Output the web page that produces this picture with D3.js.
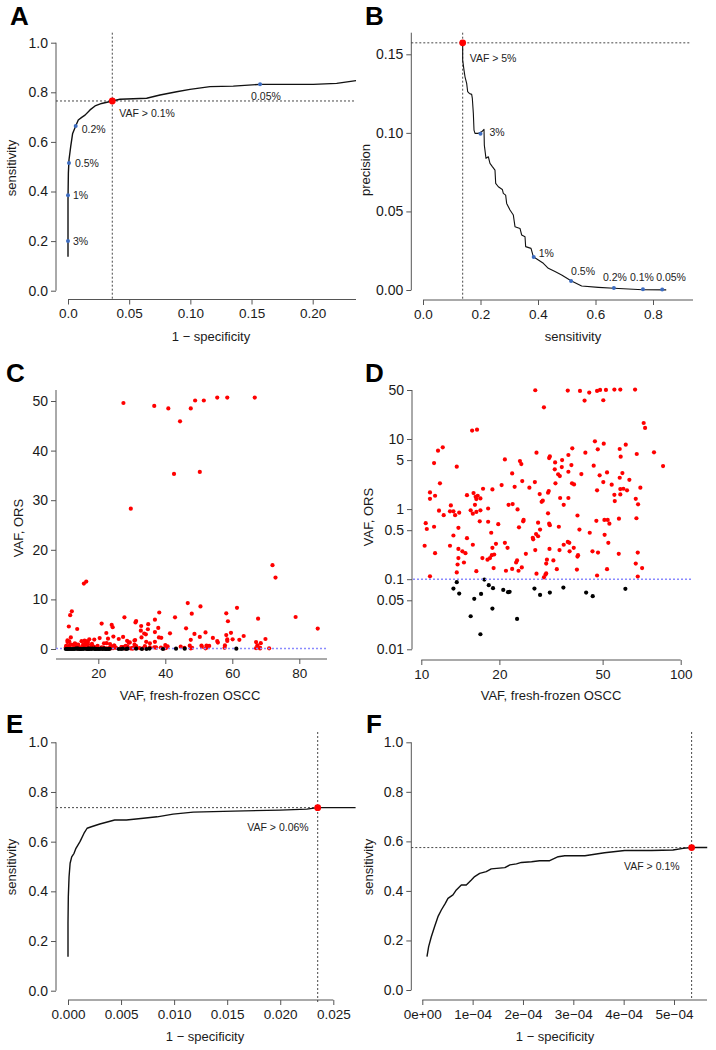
<!DOCTYPE html>
<html>
<head>
<meta charset="utf-8">
<script src="https://cdn.jsdelivr.net/npm/d3@7"></script>
<style>
body { margin: 0; background: #fff; }
svg { display: block; font-family: "Liberation Sans", Arial, sans-serif; }
</style>
</head>
<body>
<div id="fig"></div>
<script>
// ---- thresholds (A / B) ----
var thrLabels = ["3%", "1%", "0.5%", "0.2%", "0.1%", "0.05%"];
var thrSens   = [0.200, 0.385, 0.515, 0.664, 0.765, 0.832];
var thrFpr    = [0.0, 0.0, 0.0008, 0.0063, 0.0362, 0.157];
var thrPrec   = [0.0994, 0.021, 0.0057, 0.0013, 0.0004, 0.0003];
var top5Sens = 0.138, top5Prec = 0.1573;

// ---- ROC, panel A ----
var rocA_fpr  = [0, 0, 0.0003, 0.0008, 0.0022, 0.0038, 0.0063, 0.0084, 0.0112, 0.0139, 0.018, 0.0221, 0.0275, 0.0362, 0.0425, 0.0643, 0.0752, 0.0888, 0.0997, 0.1161, 0.1351, 0.1572, 0.176, 0.2005, 0.2196, 0.2354];
var rocA_sens = [0.137, 0.366, 0.473, 0.527, 0.581, 0.634, 0.664, 0.688, 0.699, 0.708, 0.729, 0.745, 0.755, 0.765, 0.772, 0.776, 0.789, 0.802, 0.812, 0.823, 0.825, 0.832, 0.832, 0.832, 0.836, 0.847];

// ---- precision / sensitivity, panel B ----
var prB_sens = [0.138, 0.138, 0.1426, 0.1461, 0.1519, 0.1554, 0.1612, 0.1693, 0.1716, 0.1751, 0.1774, 0.1809, 0.1925, 0.2041, 0.2122, 0.2133, 0.2191, 0.2272, 0.233, 0.2412, 0.2504, 0.2528, 0.262, 0.2759, 0.2794, 0.2875, 0.291, 0.3026, 0.3142, 0.32, 0.3374, 0.3432, 0.3548, 0.3571, 0.3757, 0.3838, 0.4012, 0.4186, 0.4359, 0.4591, 0.4823, 0.5148, 0.5519, 0.6099, 0.6643, 0.7641, 0.8460];
var prB_prec = [0.1573, 0.1463, 0.1399, 0.1357, 0.1315, 0.1262, 0.1251, 0.1245, 0.1219, 0.1124, 0.1018, 0.0997, 0.0997, 0.1007, 0.1022, 0.0922, 0.0838, 0.0848, 0.0806, 0.0785, 0.0763, 0.0679, 0.0657, 0.064, 0.0615, 0.0604, 0.0551, 0.0509, 0.0477, 0.0403, 0.0392, 0.035, 0.0339, 0.0276, 0.0265, 0.0212, 0.0191, 0.017, 0.0138, 0.0117, 0.0095, 0.0059, 0.0025, 0.0017, 0.0011, 0.0002, 0.0001];

// ---- ROC, panel E ----
var rocE_fpr  = [0, 0, 0.00003, 0.0001, 0.0002, 0.00035, 0.00057, 0.00075, 0.00113, 0.0015, 0.0018, 0.0022, 0.003, 0.0044, 0.0055, 0.0071, 0.0084, 0.0099, 0.0118, 0.0156, 0.020, 0.0225, 0.02353, 0.0271];
var rocE_sens = [0.137, 0.271, 0.378, 0.459, 0.513, 0.539, 0.553, 0.573, 0.600, 0.633, 0.654, 0.660, 0.671, 0.687, 0.687, 0.694, 0.700, 0.711, 0.719, 0.723, 0.727, 0.731, 0.737, 0.737];
var cutE = [0.02353, 0.737];

// ---- ROC, panel F ----
var rocF_fpr  = [9.3e-6, 1.26e-5, 1.79e-5, 2.45e-5, 3.11e-5, 3.78e-5, 4.57e-5, 5.1e-5, 6.09e-5, 6.76e-5, 7.75e-5, 8.74e-5, 9.74e-5, 1.04e-4, 1.14e-4, 1.27e-4, 1.37e-4, 1.64e-4, 1.74e-4, 1.87e-4, 1.97e-4, 2.17e-4, 2.33e-4, 2.53e-4, 2.7e-4, 2.83e-4, 3.23e-4, 3.62e-4, 4.02e-4, 4.55e-4, 4.98e-4, 5.18e-4, 5.35e-4, 5.66e-4];
var rocF_sens = [0.135, 0.175, 0.215, 0.256, 0.296, 0.323, 0.350, 0.370, 0.384, 0.404, 0.424, 0.424, 0.444, 0.458, 0.471, 0.478, 0.489, 0.494, 0.505, 0.509, 0.515, 0.518, 0.522, 0.522, 0.538, 0.542, 0.542, 0.554, 0.563, 0.563, 0.565, 0.572, 0.575, 0.575];
var cutF = [5.35e-4, 0.575];

// ---- VAF scatter (C / D): fresh-frozen OSCC vs ORS ----
var vafFF = [
  27.5, 36.7, 40.9, 44.4, 47.6, 48.9, 51.5, 55.5, 58.5, 66.7, 42.6, 50.3, 29.7, 15.7, 16.4, 72.0, 72.9,
  11.6, 12.1, 46.7, 50.5, 61.4, 38.2, 47.9, 58.2, 27.8, 42.9, 67.7, 78.9, 36.9, 31.3, 31.1, 58.7, 21.0,
  24.0, 24.3, 34.9, 32.8, 11.2, 13.7, 37.9, 46.2, 85.5, 34.8, 32.7, 36.9, 22.4, 33.7, 41.4, 52.0, 59.6,
  34.2, 48.7, 58.2, 63.4, 11.8, 20.4, 22.9, 24.5, 27.4, 26.1, 32.9, 38.1, 38.8, 47.6, 50.3, 54.2, 58.5,
  60.1, 62.1, 69.9, 17.3, 18.8, 10.8, 11.3, 10.8, 15.0, 15.9, 16.2, 16.5, 16.9, 16.3, 28.6, 31.0, 30.8,
  34.3, 36.9, 29.4, 29.1, 55.5, 58.5, 55.7, 67.1, 68.5, 21.7, 22.5, 35.4, 13.0, 16.1, 23.5, 11.7, 12.9,
  13.3, 12.2, 13.5, 14.0, 15.5, 15.8, 16.3, 16.9, 18.1, 30.8, 40.0, 67.5, 10.4, 11.2, 10.5, 16.8, 18.1,
  19.8, 24.7, 24.8, 28.2, 31.1, 31.3, 33.9, 47.3, 50.8, 52.3, 53.1, 57.8, 13.9, 18.6, 23.8, 28.7, 27.7,
  40.7, 44.6, 50.9, 13.3, 15.0, 15.8, 19.4, 18.8, 21.0, 21.5, 26.9, 27.0, 28.2, 35.4, 36.7, 37.2, 38.7,
  52.6, 10.3, 11.3, 12.9, 13.9, 14.4, 14.8, 27.5, 31.2, 34.1, 37.3, 40.2, 40.0, 45.7, 48.0, 57.7, 68.3,
  13.9, 14.6, 17.2, 18.0, 18.4, 18.7, 19.1, 23.4, 23.2, 25.3, 30.5, 30.3, 32.3, 13.8, 13.7, 16.3, 19.0,
  21.2, 22.4, 23.7, 24.4, 27.8, 29.7, 30.1, 30.3, 33.3, 39.8, 52.0, 67.1, 71.0, 10.8, 47.6, 68.3,
  13.3, 13.7, 14.0, 17.5, 18.2, 18.9, 20.7, 21.6, 21.9, 27.3, 28.7, 31.3, 35.3, 43.2, 45.8, 61.2, 16.0,
  17.0, 18.8, 15.5, 23.4, 16.9
];
var vafORS = [
  49.6, 49.0, 48.5, 45.9, 48.5, 50.1, 50.1, 50.7, 50.7, 50.7, 35.3, 35.7, 28.3, 13.2, 13.6, 16.9, 14.4,
  6.81, 7.60, 9.26, 8.58, 8.30, 7.36, 7.12, 7.20, 6.38, 6.38, 6.11, 6.45, 5.91, 5.65, 5.35, 5.59, 5.12,
  4.85, 4.39, 5.01, 4.64, 4.54, 4.03, 4.25, 4.16, 4.11, 3.98, 3.69, 3.41, 3.23, 3.13, 3.16, 3.34, 3.27,
  2.96, 3.03, 2.80, 2.62, 2.33, 2.20, 2.08, 2.51, 2.43, 2.02, 2.33, 2.33, 2.25, 1.85, 2.43, 2.23, 1.93,
  1.95, 1.85, 2.02, 1.95, 1.91, 1.73, 1.55, 1.40, 1.58, 1.69, 1.50, 1.55, 1.42, 1.39, 1.64, 1.81, 1.71,
  1.44, 1.44, 1.32, 1.27, 1.60, 1.62, 1.30, 1.40, 1.17, 1.15, 1.18, 1.15, 1.13, 1.15, 0.99, 0.95, 0.93,
  0.93, 0.82, 0.82, 0.89, 0.96, 0.86, 0.91, 0.96, 1.02, 0.87, 0.81, 0.74, 0.63, 0.56, 0.52, 0.67, 0.66,
  0.61, 0.67, 0.70, 0.64, 0.62, 0.59, 0.56, 0.68, 0.70, 0.70, 0.62, 0.73, 0.54, 0.46, 0.55, 0.51, 0.44,
  0.51, 0.46, 0.43, 0.42, 0.385, 0.31, 0.32, 0.28, 0.33, 0.28, 0.39, 0.37, 0.41, 0.31, 0.34, 0.33, 0.28,
  0.33, 0.30, 0.235, 0.30, 0.27, 0.25, 0.235, 0.26, 0.27, 0.26, 0.25, 0.22, 0.21, 0.25, 0.24, 0.23, 0.24,
  0.20, 0.173, 0.20, 0.19, 0.20, 0.22, 0.225, 0.185, 0.173, 0.23, 0.19, 0.167, 0.185, 0.162, 0.125, 0.130, 0.144,
  0.132, 0.140, 0.132, 0.147, 0.120, 0.106, 0.116, 0.121, 0.139, 0.137, 0.139, 0.167, 0.144, 0.110, 0.113, 0.109,
  0.0735, 0.0906, 0.0624, 0.0989, 0.0821, 0.0744, 0.0704, 0.0652, 0.066, 0.0735, 0.0597, 0.0645, 0.076, 0.0645, 0.0572, 0.0728, 0.0524,
  0.0617, 0.0381, 0.0296, 0.0271, 0.0164
];
// mutations with no ORS read (VAF 0) -- only visible on the linear panel
var vafFFzero = [10.3, 10.7, 11.0, 11.5, 11.9, 12.4, 12.8, 14.3, 14.7, 15.1, 16.6, 17.3, 17.9, 19.2, 19.6, 20.0, 20.4, 21.2, 22.2, 22.6, 23.0, 26.1, 26.8, 28.3, 33.0, 34.4, 39.3];

var orsCut = 0.1;

var W = 716, H = 1050;
var svg = d3.select("#fig").append("svg").attr("width", W).attr("height", H);

var axisCol = "#555", textCol = "#1a1a1a";

function letter(t, x, y) {
  svg.append("text").attr("x", x).attr("y", y)
    .attr("font-size", 26).attr("font-weight", "bold").attr("fill", "#000").text(t);
}

// bottom axis at yPos, axis line from lineFrom to lineTo
function bottomAxis(scale, yPos, ticks, labels, lineFrom, lineTo) {
  var g = svg.append("g").attr("transform", "translate(0," + yPos + ")")
    .call(d3.axisBottom(scale).tickValues(ticks)
      .tickFormat(function(d, i) { return labels[i]; })
      .tickSize(5).tickPadding(4).tickSizeOuter(0));
  g.select(".domain").remove();
  g.selectAll(".tick line").attr("stroke", axisCol);
  g.selectAll("text").attr("fill", textCol).attr("font-size", 13.5)
    .attr("font-family", "Liberation Sans, Arial, sans-serif");
  g.append("line").attr("x1", lineFrom).attr("x2", lineTo)
    .attr("stroke", axisCol).attr("stroke-width", 1);
}

function leftAxis(scale, xPos, ticks, labels, lineFrom, lineTo) {
  var g = svg.append("g").attr("transform", "translate(" + xPos + ",0)")
    .call(d3.axisLeft(scale).tickValues(ticks)
      .tickFormat(function(d, i) { return labels[i]; })
      .tickSize(5).tickPadding(3).tickSizeOuter(0));
  g.select(".domain").remove();
  g.selectAll(".tick line").attr("stroke", axisCol);
  g.selectAll("text").attr("fill", textCol).attr("font-size", 14)
    .attr("font-family", "Liberation Sans, Arial, sans-serif");
  g.append("line").attr("y1", lineFrom).attr("y2", lineTo)
    .attr("stroke", axisCol).attr("stroke-width", 1);
}

function xTitle(t, x, y) {
  svg.append("text").attr("x", x).attr("y", y).attr("text-anchor", "middle")
    .attr("font-size", 13).attr("fill", textCol).text(t);
}
function yTitle(t, x, y) {
  svg.append("text").attr("transform", "translate(" + x + "," + y + ") rotate(-90)")
    .attr("text-anchor", "middle").attr("font-size", 13).attr("fill", textCol).text(t);
}

function dotted(x1, y1, x2, y2, col, w) {
  svg.append("line").attr("x1", x1).attr("y1", y1).attr("x2", x2).attr("y2", y2)
    .attr("stroke", col || "#333").attr("stroke-width", w || 0.9)
    .attr("stroke-dasharray", "2,2");
}

function curve(xs, ys, sx, sy, w) {
  var pts = xs.map(function(d, i) { return [sx(d), sy(ys[i])]; });
  svg.append("path").attr("d", d3.line()(pts))
    .attr("fill", "none").attr("stroke", "#111").attr("stroke-width", w || 1.4)
    .attr("stroke-linejoin", "round");
}

function note(t, x, y, anchor) {
  svg.append("text").attr("x", x).attr("y", y).attr("dy", "0.35em")
    .attr("text-anchor", anchor || "start")
    .attr("font-size", 10.5).attr("fill", "#222").text(t);
}

function dot(x, y, r, col) {
  svg.append("circle").attr("cx", x).attr("cy", y).attr("r", r).attr("fill", col);
}

var blue = "#3d6cc0", red = "#ff0000";

// ================= A =================
function panelA() {
  var x = d3.scaleLinear().domain([0, 0.2]).range([68, 312.7]);
  var y = d3.scaleLinear().domain([0, 1]).range([290.7, 42.7]);
  letter("A", 10, 25);
  leftAxis(y, 56, [0, 0.2, 0.4, 0.6, 0.8, 1.0], ["0.0", "0.2", "0.4", "0.6", "0.8", "1.0"], y(0), y(1));
  bottomAxis(x, 299.5, [0, 0.05, 0.1, 0.15, 0.2], ["0.0", "0.05", "0.10", "0.15", "0.20"], x(0), 356);
  dotted(56, y(thrSens[4]), 356, y(thrSens[4]));
  dotted(x(thrFpr[4]), 32.7, x(thrFpr[4]), 299.5);
  curve(rocA_fpr, rocA_sens, x, y, 1.4);
  var dx = [5, 5, 6, 6, 0, -9], dy = [0, 0, 0, 3, 0, 12];
  thrLabels.forEach(function(l, i) {
    if (i == 4) return;
    dot(x(thrFpr[i]), y(thrSens[i]), 2, blue);
    note(l, x(thrFpr[i]) + dx[i], y(thrSens[i]) + dy[i]);
  });
  dot(x(thrFpr[4]), y(thrSens[4]), 3.4, red);
  note("VAF > " + thrLabels[4], x(thrFpr[4]) + 7, y(thrSens[4]) + 12);
  yTitle("sensitivity", 15.5, 168);
  xTitle("1 \u2212 specificity", 211, 341);
}

// ================= B =================
function panelB() {
  var x = d3.scaleLinear().domain([0, 0.8]).range([423, 653]);
  var y = d3.scaleLinear().domain([0, 0.15]).range([290, 54.3]);
  letter("B", 365, 25);
  leftAxis(y, 411.3, [0, 0.05, 0.1, 0.15], ["0.00", "0.05", "0.10", "0.15"], y(0), 32.7);
  bottomAxis(x, 300, [0, 0.2, 0.4, 0.6, 0.8], ["0.0", "0.2", "0.4", "0.6", "0.8"], x(0), 693);
  dotted(411.3, y(top5Prec), 690, y(top5Prec));
  dotted(x(top5Sens), 32.7, x(top5Sens), 300);
  curve(prB_sens, prB_prec, x, y, 1.1);
  var dx = [9, 5, 0, -11, -13, -6], dy = [-1, -4, -10, -11, -12, -12];
  thrLabels.forEach(function(l, i) {
    dot(x(thrSens[i]), y(thrPrec[i]), 2, blue);
    note(l, x(thrSens[i]) + dx[i], y(thrPrec[i]) + dy[i]);
  });
  dot(x(top5Sens), y(top5Prec), 3.4, red);
  note("VAF > 5%", x(top5Sens) + 7, y(top5Prec) + 15);
  yTitle("precision", 370, 170);
  xTitle("sensitivity", 573, 341);
}

// ================= C =================
function panelC() {
  var x = d3.scaleLinear().domain([20, 80]).range([98.3, 299.3]);
  var y = d3.scaleLinear().domain([0, 50]).range([649, 401]);
  letter("C", 6, 382);
  leftAxis(y, 56, [0, 10, 20, 30, 40, 50], ["0", "10", "20", "30", "40", "50"], y(0), 390);
  bottomAxis(x, 659, [20, 40, 60, 80], ["20", "40", "60", "80"], 56, 327);
  var g = svg.append("g");
  var idx = d3.range(vafFF.length);
  // red first, then the ORS-negative ones on top
  g.selectAll("circle.r").data(idx.filter(function(i) { return vafORS[i] >= orsCut; }))
    .enter().append("circle").attr("class", "r")
    .attr("cx", function(i) { return x(vafFF[i]); })
    .attr("cy", function(i) { return y(vafORS[i]); })
    .attr("r", 2.1).attr("fill", red);
  dotted(56, y(orsCut), 327, y(orsCut), "#8a8aff", 1.5);
  g = svg.append("g");
  g.selectAll("circle.z").data(vafFFzero).enter().append("circle")
    .attr("cx", function(d) { return x(d); }).attr("cy", y(0))
    .attr("r", 2.1).attr("fill", "#000");
  g.selectAll("circle.k").data(idx.filter(function(i) { return vafORS[i] < orsCut; }))
    .enter().append("circle").attr("class", "k")
    .attr("cx", function(i) { return x(vafFF[i]); })
    .attr("cy", function(i) { return y(vafORS[i]); })
    .attr("r", 2.1).attr("fill", "#000");
  yTitle("VAF, ORS", 23, 528);
  xTitle("VAF, fresh-frozen OSCC", 190, 700);
}

// ================= D =================
function panelD() {
  var x = d3.scaleLog().domain([10, 100]).range([421.3, 680.7]);
  var y = d3.scaleLog().domain([0.01, 50]).range([649.3, 390]);
  letter("D", 365, 382);
  var yt = [0.01, 0.05, 0.1, 0.5, 1, 5, 10, 50];
  leftAxis(y, 412, yt, ["0.01", "0.05", "0.1", "0.5", "1", "5", "10", "50"], y(0.01), y(50));
  bottomAxis(x, 660, [10, 20, 50, 100], ["10", "20", "50", "100"], x(10), x(100));
  var g = svg.append("g");
  g.selectAll("circle").data(vafFF).enter().append("circle")
    .attr("cx", function(d) { return x(d); })
    .attr("cy", function(d, i) { return y(vafORS[i]); })
    .attr("r", 2.1)
    .attr("fill", function(d, i) { return vafORS[i] >= orsCut ? red : "#000"; });
  dotted(413, y(orsCut), 691, y(orsCut), "#8a8aff", 1.5);
  yTitle("VAF, ORS", 373, 517);
  xTitle("VAF, fresh-frozen OSCC", 551, 700);
}

// ================= E =================
function panelE() {
  var x = d3.scaleLinear().domain([0, 0.025]).range([68, 333.3]);
  var y = d3.scaleLinear().domain([0, 1]).range([990.7, 742.3]);
  letter("E", 6, 733);
  leftAxis(y, 56, [0, 0.2, 0.4, 0.6, 0.8, 1.0], ["0.0", "0.2", "0.4", "0.6", "0.8", "1.0"], y(0), y(1));
  bottomAxis(x, 1000, [0, 0.005, 0.01, 0.015, 0.02, 0.025],
    ["0.000", "0.005", "0.010", "0.015", "0.020", "0.025"], x(0), x(0.025));
  dotted(56, y(cutE[1]), x(cutE[0]), y(cutE[1]));
  dotted(x(cutE[0]), 732, x(cutE[0]), 1002);
  curve(rocE_fpr, rocE_sens, x, y, 1.4);
  dot(x(cutE[0]), y(cutE[1]), 3.4, red);
  note("VAF > 0.06%", x(cutE[0]) - 9, y(cutE[1]) + 20, "end");
  yTitle("sensitivity", 15.5, 867);
  xTitle("1 \u2212 specificity", 205, 1041);
}

// ================= F =================
function panelF() {
  var x = d3.scaleLinear().domain([0, 5e-4]).range([422.3, 674]);
  var y = d3.scaleLinear().domain([0, 1]).range([990, 742.3]);
  letter("F", 366, 733);
  leftAxis(y, 411.3, [0, 0.2, 0.4, 0.6, 0.8, 1.0], ["0.0", "0.2", "0.4", "0.6", "0.8", "1.0"], y(0), y(1));
  bottomAxis(x, 1000, [0, 1e-4, 2e-4, 3e-4, 4e-4, 5e-4],
    ["0e+00", "1e\u221204", "2e\u221204", "3e\u221204", "4e\u221204", "5e\u221204"], x(0), 707);
  dotted(411.3, y(cutF[1]), x(cutF[0]), y(cutF[1]));
  dotted(x(cutF[0]), 732, x(cutF[0]), 1000);
  curve(rocF_fpr, rocF_sens, x, y, 1.4);
  dot(x(cutF[0]), y(cutF[1]), 3.4, red);
  note("VAF > 0.1%", x(cutF[0]) - 12, y(cutF[1]) + 19, "end");
  yTitle("sensitivity", 373, 867);
  xTitle("1 \u2212 specificity", 555, 1041);
}

panelA();
panelB();
panelC();
panelD();
panelE();
panelF();
</script>
</body>
</html>
